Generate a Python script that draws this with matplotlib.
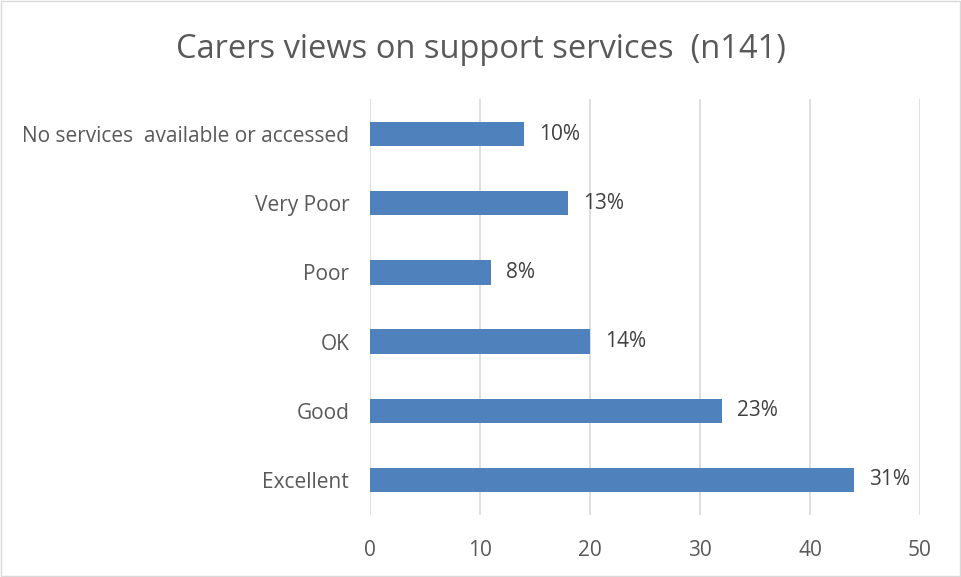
import matplotlib.pyplot as plt
from matplotlib.patches import Rectangle

plt.rcParams['font.family'] = ['Open Sans', 'DejaVu Sans']

categories = ['Excellent', 'Good', 'OK', 'Poor', 'Very Poor',
              'No services  available or accessed']
counts = [44, 32, 20, 11, 18, 14]
total = 141
ticks = [0, 10, 20, 30, 40, 50]

fig = plt.figure(figsize=(9.62, 5.77), dpi=100)
ax = fig.add_axes([0.3846, 0.1083, 0.5717, 0.7193])

pos = range(len(categories))
ax.barh(pos, counts, height=0.35, color='#4F81BD', zorder=3)

# percentage of all respondents next to each bar
for y, c in zip(pos, counts):
    ax.text(c + 1.4, y, f'{round(100 * c / total)}%', va='center', ha='left',
            fontsize=15, color='#404040')

ax.set_xlim(0, 50)
ax.set_ylim(-0.5, len(categories) - 0.5)
ax.set_xticks(ticks)
ax.set_yticks(list(pos))
ax.set_yticklabels(categories)
ax.tick_params(axis='both', length=0, labelsize=15, colors='#595959')
ax.tick_params(axis='x', pad=18)
ax.tick_params(axis='y', pad=15)
ax.xaxis.grid(True, color='#D9D9D9', linewidth=1.2, zorder=0)
for s in ax.spines.values():
    s.set_visible(False)

fig.text(0.5, 0.915, 'Carers views on support services  (n141)', ha='center',
         va='center', fontsize=23.5, color='#595959')

fig.patches.append(Rectangle((0.001, 0.002), 0.997, 0.996, transform=fig.transFigure,
                             fill=False, edgecolor='#D9D9D9', linewidth=1))

fig.savefig('out.png', dpi=100)
